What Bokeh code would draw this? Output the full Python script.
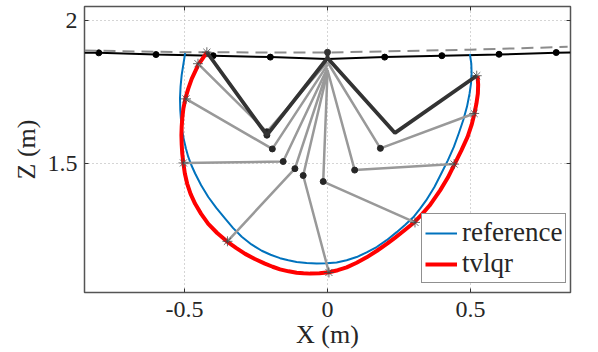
from bokeh.plotting import figure
from bokeh.embed import file_html
from bokeh.resources import INLINE
from bokeh.models import Legend, LegendItem, FixedTicker, LinearAxis, Range1d

ground_x = [-0.85, -0.8, -0.6, -0.4, -0.2, 0.0, 0.2, 0.4, 0.6, 0.8, 0.85]
ground_z = [1.888, 1.888, 1.882, 1.878, 1.873, 1.866, 1.873, 1.878, 1.882, 1.888, 1.889]
post_x = [-0.8, -0.6, -0.4, -0.2, 0.2, 0.4, 0.6, 0.8]
post_z = [1.888, 1.882, 1.878, 1.873, 1.873, 1.878, 1.883, 1.889]
dash_x = [-0.85, -0.5, 0.0, 0.5, 0.84]
dash_z = [1.896, 1.890, 1.889, 1.899, 1.909]

ref_x = [-0.498, -0.504, -0.510, -0.514, -0.516, -0.515, -0.512, -0.508, -0.502, -0.495, -0.487,
         -0.476, -0.463, -0.442, -0.417, -0.389, -0.358, -0.330, -0.300, -0.266, -0.230, -0.199,
         -0.166, -0.137, -0.108, -0.073, -0.038, -0.003, 0.032, 0.067, 0.102, 0.137, 0.172,
         0.207, 0.242, 0.272, 0.300, 0.324, 0.345, 0.374, 0.398, 0.421, 0.442, 0.459, 0.475,
         0.488, 0.497, 0.502, 0.504, 0.503, 0.498]
ref_z = [1.887, 1.849, 1.811, 1.770, 1.729, 1.688, 1.647, 1.614, 1.582, 1.553, 1.524,
         1.495, 1.466, 1.425, 1.384, 1.346, 1.308, 1.275, 1.245, 1.218, 1.196, 1.182,
         1.170, 1.163, 1.157, 1.153, 1.151, 1.152, 1.155, 1.163, 1.174, 1.190, 1.209,
         1.233, 1.261, 1.287, 1.313, 1.343, 1.372, 1.419, 1.466, 1.512, 1.559, 1.606, 1.653,
         1.700, 1.746, 1.781, 1.816, 1.850, 1.884]
tv_x = [-0.422, -0.437, -0.452, -0.475, -0.487, -0.497, -0.504, -0.508, -0.510, -0.511, -0.510,
        -0.508, -0.504, -0.499, -0.491, -0.479, -0.463, -0.442, -0.417, -0.386, -0.352, -0.320,
        -0.288, -0.254, -0.219, -0.192, -0.166, -0.136, -0.108, -0.084, -0.061, -0.028, 0.005,
        0.036, 0.067, 0.102, 0.137, 0.173, 0.210, 0.238, 0.265, 0.303, 0.331, 0.357, 0.394,
        0.421, 0.444, 0.468, 0.490, 0.504, 0.514, 0.521, 0.526, 0.527, 0.525]
tv_z = [1.890, 1.868, 1.846, 1.797, 1.763, 1.729, 1.694, 1.659, 1.630, 1.600, 1.568,
        1.535, 1.501, 1.466, 1.431, 1.395, 1.360, 1.325, 1.290, 1.258, 1.229, 1.206,
        1.185, 1.167, 1.151, 1.140, 1.131, 1.124, 1.119, 1.117, 1.116, 1.117, 1.121,
        1.128, 1.138, 1.154, 1.173, 1.196, 1.222, 1.243, 1.264, 1.295, 1.324, 1.354, 1.407,
        1.452, 1.498, 1.546, 1.594, 1.636, 1.676, 1.711, 1.746, 1.777, 1.807]

hip_x = [0.0, 0.0, 0.0, 0.0, 0.0, 0.0, 0.0, 0.0, 0.0]
hip_z = [1.870, 1.856, 1.846, 1.835, 1.828, 1.821, 1.821, 1.828, 1.856]
knee_x = [-0.212, -0.212, -0.193, -0.155, -0.114, -0.085, -0.015, 0.095, 0.185]
knee_z = [1.600, 1.612, 1.552, 1.508, 1.483, 1.459, 1.438, 1.478, 1.554]
foot_x = [-0.422, -0.453, -0.495, -0.504, -0.350, 0.005, 0.306, 0.443, 0.513]
foot_z = [1.890, 1.850, 1.727, 1.503, 1.229, 1.120, 1.295, 1.499, 1.676]
dark_x = [-0.422, -0.212, 0.0, 0.236, 0.522]
dark_z = [1.890, 1.600, 1.870, 1.608, 1.808]
body_x = [0.0, 0.0]
body_z = [1.890, 1.870]

x_ticks = [-0.5, 0.0, 0.5]
x_labels = ["-0.5", "0", "0.5"]
z_ticks = [1.5, 2.0]
z_labels = ["1.5", "2"]

FONT = "Liberation Serif"
FRAME = "#555555"
GREY = "#999999"
DARK = "#333333"

p = figure(width=598, height=352, frame_width=486, frame_height=286,
           x_range=Range1d(-0.85, 0.85), y_range=Range1d(1.05, 2.05),
           min_border_left=84, min_border_right=28, min_border_top=6, min_border_bottom=60,
           output_backend="svg", toolbar_location=None, margin=(0, 0, 0, 0),
           x_axis_label="X (m)", y_axis_label="Z (m)")
p.outline_line_color = FRAME
p.outline_line_width = 1.5
p.background_fill_color = "white"

for ax, ticks, labels in ((p.xaxis[0], x_ticks, x_labels), (p.yaxis[0], z_ticks, z_labels)):
    ax.ticker = FixedTicker(ticks=ticks)
    ax.major_label_overrides = dict(zip(ticks, labels))
    ax.axis_line_color = None
    ax.major_tick_line_color = "#333333"
    ax.major_tick_in = 4
    ax.major_tick_out = 0
    ax.minor_tick_line_color = None
    ax.major_label_text_font = FONT
    ax.major_label_text_font_size = "24px"
    ax.major_label_text_color = "#262626"
    ax.axis_label_text_font = FONT
    ax.axis_label_text_font_size = "26px"
    ax.axis_label_text_font_style = "normal"
    ax.axis_label_text_color = "#262626"
p.xaxis[0].major_label_standoff = 9
p.xaxis[0].axis_label_standoff = 0
p.yaxis[0].major_label_standoff = 7
p.yaxis[0].axis_label_standoff = 4
p.yaxis[0].major_label_orientation = "horizontal"

for side, ticks in (("above", x_ticks), ("right", z_ticks)):
    a = LinearAxis(ticker=FixedTicker(ticks=ticks))
    a.axis_line_color = None
    a.major_tick_line_color = "#333333"
    a.major_tick_in = 4
    a.major_tick_out = 0
    a.minor_tick_line_color = None
    a.major_label_text_font_size = "0px"
    a.major_label_text_color = None
    a.major_label_standoff = 0
    p.add_layout(a, side)

for g in (p.xgrid[0], p.ygrid[0]):
    g.grid_line_color = "#aaaaaa"
    g.grid_line_dash = "1 3"
    g.grid_line_width = 1
p.xgrid[0].ticker = FixedTicker(ticks=x_ticks)
p.ygrid[0].ticker = FixedTicker(ticks=z_ticks)

p.line(ground_x, ground_z, line_color="black", line_width=2)
p.scatter(post_x, post_z, size=6, color="black")
p.line(dash_x, dash_z, line_color="#8c8c8c", line_width=2, line_dash="12 7")

r_ref = p.line(ref_x, ref_z, line_color="#0072bd", line_width=2, line_join="round")
r_tv = p.line(tv_x, tv_z, line_color="#ff0000", line_width=4, line_join="round")

for hx, hz, kx, kz, fx, fz in zip(hip_x, hip_z, knee_x, knee_z, foot_x, foot_z):
    p.line([hx, kx, fx], [hz, kz, fz], line_color=GREY, line_width=2.5)
p.scatter(knee_x, knee_z, size=6, color="#262626")
p.line(dark_x, dark_z, line_color=DARK, line_width=3.8)
p.line(body_x, body_z, line_color=DARK, line_width=3.8)
p.scatter(body_x[:1], body_z[:1], size=6, color=DARK)
p.scatter(foot_x + dark_x[-1:], foot_z + dark_z[-1:], marker="asterisk", size=10,
          line_color="#444444", line_width=0.8, fill_color=None)

legend = Legend(items=[LegendItem(label="reference", renderers=[r_ref]),
                       LegendItem(label="tvlqr", renderers=[r_tv])],
                location=(337, 9), orientation="vertical",
                label_text_font=FONT, label_text_font_size="27px", label_text_color="#262626",
                label_height=26, glyph_height=26, glyph_width=32, label_standoff=5,
                spacing=0, padding=3, margin=0,
                border_line_color="#222222", border_line_width=1.5,
                background_fill_color="white", background_fill_alpha=1)
p.add_layout(legend, "center")

open("out.html", "w").write(file_html(p, INLINE))
